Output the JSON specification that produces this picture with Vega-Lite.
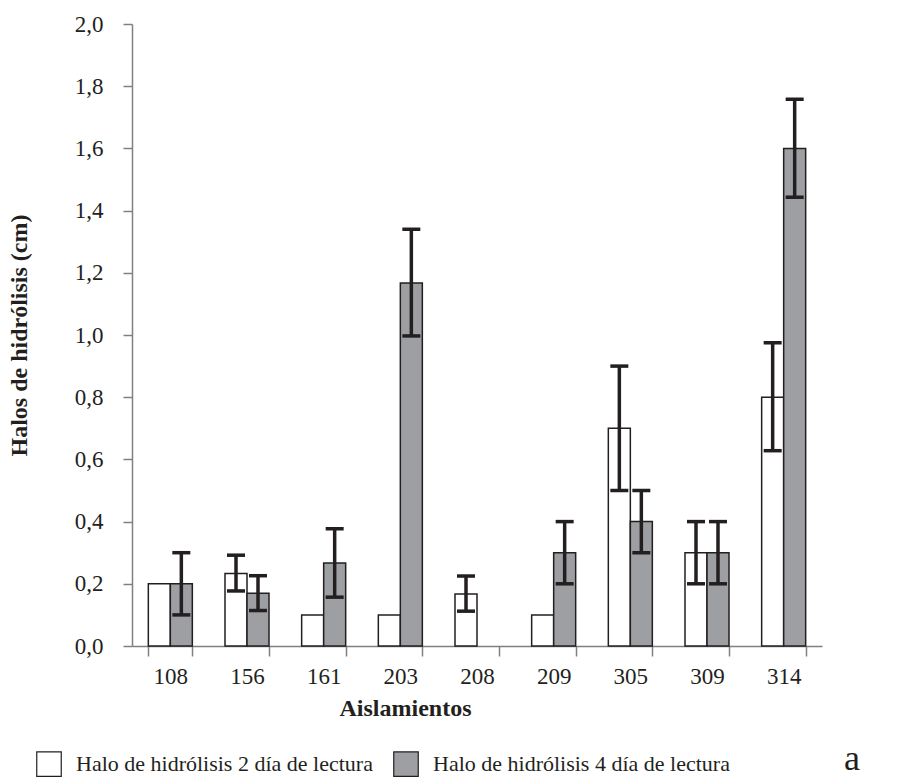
{
  "$schema": "https://vega.github.io/schema/vega-lite/v6.json",
  "autosize": {"type": "none"},
  "width": 690,
  "height": 622,
  "padding": {"left": 132, "top": 24, "right": 92, "bottom": 132},
  "background": "white",
  "title": {"text": "a", "orient": "bottom", "anchor": "end", "font": "Liberation Serif", "fontSize": 36, "fontWeight": "normal", "color": "#231f20", "dx": 38, "offset": 20, "dy": -57},
  "config": {
    "view": {"stroke": null},
    "locale": {"number": {"decimal": ",", "thousands": ".", "grouping": [3], "currency": ["", " €"]}},
    "font": "Liberation Serif"
  },
  "data": {"values": [
    {"aislamiento": "108", "serie": "Halo de hidrólisis 2 día de lectura", "valor": 0.2, "inf": null, "sup": null},
    {"aislamiento": "108", "serie": "Halo de hidrólisis 4 día de lectura", "valor": 0.2, "inf": 0.1, "sup": 0.3},
    {"aislamiento": "156", "serie": "Halo de hidrólisis 2 día de lectura", "valor": 0.233, "inf": 0.177, "sup": 0.292},
    {"aislamiento": "156", "serie": "Halo de hidrólisis 4 día de lectura", "valor": 0.17, "inf": 0.114, "sup": 0.226},
    {"aislamiento": "161", "serie": "Halo de hidrólisis 2 día de lectura", "valor": 0.1, "inf": null, "sup": null},
    {"aislamiento": "161", "serie": "Halo de hidrólisis 4 día de lectura", "valor": 0.267, "inf": 0.157, "sup": 0.377},
    {"aislamiento": "203", "serie": "Halo de hidrólisis 2 día de lectura", "valor": 0.1, "inf": null, "sup": null},
    {"aislamiento": "203", "serie": "Halo de hidrólisis 4 día de lectura", "valor": 1.167, "inf": 0.997, "sup": 1.34},
    {"aislamiento": "208", "serie": "Halo de hidrólisis 2 día de lectura", "valor": 0.167, "inf": 0.112, "sup": 0.225},
    {"aislamiento": "209", "serie": "Halo de hidrólisis 2 día de lectura", "valor": 0.1, "inf": null, "sup": null},
    {"aislamiento": "209", "serie": "Halo de hidrólisis 4 día de lectura", "valor": 0.3, "inf": 0.2, "sup": 0.4},
    {"aislamiento": "305", "serie": "Halo de hidrólisis 2 día de lectura", "valor": 0.7, "inf": 0.5, "sup": 0.9},
    {"aislamiento": "305", "serie": "Halo de hidrólisis 4 día de lectura", "valor": 0.4, "inf": 0.3, "sup": 0.5},
    {"aislamiento": "309", "serie": "Halo de hidrólisis 2 día de lectura", "valor": 0.3, "inf": 0.2, "sup": 0.4},
    {"aislamiento": "309", "serie": "Halo de hidrólisis 4 día de lectura", "valor": 0.3, "inf": 0.2, "sup": 0.4},
    {"aislamiento": "314", "serie": "Halo de hidrólisis 2 día de lectura", "valor": 0.8, "inf": 0.628, "sup": 0.975},
    {"aislamiento": "314", "serie": "Halo de hidrólisis 4 día de lectura", "valor": 1.6, "inf": 1.443, "sup": 1.758}
  ]},
  "encoding": {
    "x": {
      "field": "aislamiento", "type": "nominal",
      "sort": ["108", "156", "161", "203", "208", "209", "305", "309", "314"],
      "scale": {"paddingInner": 0.426, "paddingOuter": 0.213},
      "axis": {
        "title": "Aislamientos", "labelAngle": 0, "tickBand": "extent",
        "domainColor": "#808080", "domainWidth": 1.5, "tickColor": "#808080", "tickWidth": 1.5, "tickSize": 10,
        "labelFont": "Liberation Serif", "labelFontSize": 23, "labelColor": "#231f20", "labelPadding": 9,
        "titleFont": "Liberation Serif", "titleFontSize": 24, "titleFontWeight": "bold", "titleColor": "#231f20",
        "titlePadding": 8, "titleX": 273
      }
    },
    "xOffset": {"field": "serie", "type": "nominal", "scale": {"paddingInner": 0, "paddingOuter": 0}}
  },
  "layer": [
    {
      "mark": {"type": "bar", "stroke": "#231f20", "strokeWidth": 1.5},
      "encoding": {
        "y": {
          "field": "valor", "type": "quantitative",
          "scale": {"domain": [0, 2], "nice": false},
          "axis": {
            "title": "Halos de hidrólisis (cm)", "values": [0, 0.2, 0.4, 0.6, 0.8, 1.0, 1.2, 1.4, 1.6, 1.8, 2.0], "format": ".1f",
            "grid": false, "domainColor": "#808080", "domainWidth": 1.5, "tickColor": "#808080", "tickWidth": 1.5, "tickSize": 9,
            "labelFont": "Liberation Serif", "labelFontSize": 23, "labelColor": "#231f20", "labelPadding": 20,
            "titleFont": "Liberation Serif", "titleFontSize": 24, "titleFontWeight": "bold", "titleColor": "#231f20", "titlePadding": 43
          }
        },
        "fill": {
          "field": "serie", "type": "nominal",
          "scale": {"range": ["#ffffff", "#9d9fa2"]},
          "legend": {
            "title": null, "orient": "none", "direction": "horizontal", "legendX": -96, "legendY": 727,
            "symbolType": "square", "symbolSize": 600, "symbolStrokeColor": "#231f20", "symbolStrokeWidth": 1.2,
            "labelFont": "Liberation Serif", "labelFontSize": 22, "labelColor": "#231f20", "labelLimit": 500,
            "labelOffset": 14, "columnPadding": 18
          }
        }
      }
    },
    {
      "transform": [{"filter": "datum.inf != null"}],
      "mark": {"type": "rule", "color": "#231f20", "strokeWidth": 3.5},
      "encoding": {
        "y": {"field": "inf", "type": "quantitative"},
        "y2": {"field": "sup"}
      }
    },
    {
      "transform": [{"filter": "datum.inf != null"}],
      "mark": {"type": "tick", "color": "#231f20", "thickness": 3.5, "size": 18, "opacity": 1},
      "encoding": {
        "y": {"field": "inf", "type": "quantitative"}
      }
    },
    {
      "transform": [{"filter": "datum.sup != null"}],
      "mark": {"type": "tick", "color": "#231f20", "thickness": 3.5, "size": 18, "opacity": 1},
      "encoding": {
        "y": {"field": "sup", "type": "quantitative"}
      }
    }
  ]
}
